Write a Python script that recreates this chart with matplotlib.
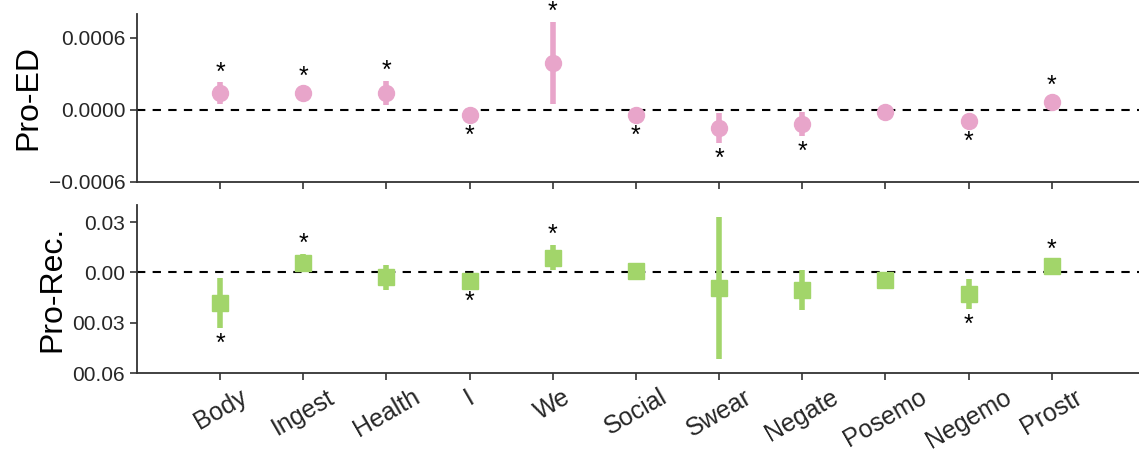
import numpy as np
import matplotlib.pyplot as plt

plt.rcParams['font.family'] = ['Liberation Sans', 'DejaVu Sans']

categories = ['Body', 'Ingest', 'Health', 'I', 'We', 'Social', 'Swear',
              'Negate', 'Posemo', 'Negemo', 'Prostr']

# Pro-ED coefficients and error bars
ed_vals = [0.00014, 0.00014, 0.00014, -0.00004, 0.00039, -0.00004,
           -0.000153, -0.000117, -0.00002, -0.000094, 0.000067]
ed_err = [0.00009, 0.00002, 0.0001, 0.00002, 0.00034, 0.00002,
          0.000125, 0.0001, 0.00001, 0.00001, 0.00001]
# significance marks: 1 above, -1 below, 0 none
ed_sig = [1, 1, 1, -1, 1, -1, -1, -1, 0, -1, 1]

# Pro-Recovery coefficients and error bars
rec_vals = [-0.0183, 0.0058, -0.003, -0.0052, 0.0088, 0.001,
            -0.0092, -0.0106, -0.0046, -0.013, 0.0038]
rec_err = [0.0147, 0.005, 0.0076, 0.002, 0.0075, 0.0015,
           0.0425, 0.012, 0.0016, 0.009, 0.001]
rec_sig = [-1, 1, 0, -1, 1, 0, 0, 0, 0, -1, 1]

ed_ticks = [-0.0006, 0.0, 0.0006]
ed_ticklabels = ['\u22120.0006', '0.0000', '0.0006']
rec_ticks = [-0.06, -0.03, 0.0, 0.03]
rec_ticklabels = ['00.06', '00.03', '0.00', '0.03']

pink = '#e8a5ca'
green = '#a2d56a'

fig = plt.figure(figsize=(11.39, 4.5), dpi=100)
ax1 = fig.add_axes([0.1203, 0.5956, 0.8797, 0.3734])
ax2 = fig.add_axes([0.1203, 0.1711, 0.8797, 0.3733])

x = np.arange(len(categories))


def draw_panel(ax, vals, err, sig, color, marker, ylim, ticks, ticklabels, label):
    ax.axhline(0, color='black', ls='--', lw=1.5, dashes=(4, 3.5), zorder=1)
    ax.errorbar(x, vals, yerr=err, fmt=marker, color=color, ecolor=color,
                elinewidth=4, markersize=11.5, capsize=0, zorder=3)
    ax.set_xlim(-1, 11.05)
    ax.set_ylim(*ylim)
    # error bar length in pixels, to keep stars clear of marker and bar
    px_per_unit = ax.bbox.height / (ylim[1] - ylim[0])
    for xi, v, e, s in zip(x, vals, err, sig):
        if s == 0:
            continue
        e_px = e * px_per_unit
        if s > 0:
            off = max(e_px, 6) + 10
        else:
            off = -(max(e_px, 5) + 16)
        ax.annotate('*', (xi, v), xytext=(0, off), textcoords='offset pixels',
                    ha='center', va='center', fontsize=18)
    ax.set_yticks(ticks)
    ax.set_yticklabels(ticklabels)
    ax.set_xticks(x)
    ax.set_ylabel(label, fontsize=23)
    for side in ['top', 'right']:
        ax.spines[side].set_visible(False)
    for side in ['left', 'bottom']:
        ax.spines[side].set_color('#333333')
        ax.spines[side].set_linewidth(1.3)
    ax.tick_params(axis='both', direction='out', length=5, width=1.2,
                   color='#333333', labelsize=15, labelcolor='#262626')


draw_panel(ax1, ed_vals, ed_err, ed_sig, pink, 'o', (-0.0006, 0.0008),
           ed_ticks, ed_ticklabels, 'Pro-ED')
draw_panel(ax2, rec_vals, rec_err, rec_sig, green, 's', (-0.06, 0.0402),
           rec_ticks, rec_ticklabels, 'Pro-Rec.')

ax1.set_xticklabels([])
ax2.set_xticklabels(categories, rotation=30, fontsize=18, color='#262626')

fig.savefig('out.png', dpi=100)
